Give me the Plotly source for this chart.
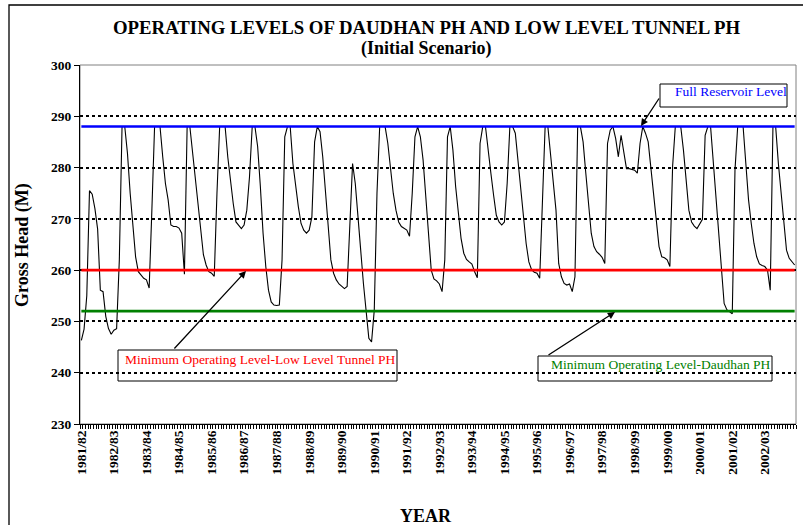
import plotly.graph_objects as go

# ---------------- data ----------------
year_labels = ["1981/82", "1982/83", "1983/84", "1984/85", "1985/86", "1986/87",
               "1987/88", "1988/89", "1989/90", "1990/91", "1991/92", "1992/93",
               "1993/94", "1994/95", "1995/96", "1996/97", "1997/98", "1998/99",
               "1999/00", "2000/01", "2001/02", "2002/03"]

# monthly gross head (m), 12 values per water year
gross_head = [
    246.3, 248.5, 255.0, 275.5, 274.8, 272.0, 268.0, 256.1, 255.8, 251.0, 248.6, 247.5,  # 1981/82
    248.3, 248.6, 262.0, 288.0, 288.0, 282.8, 275.0, 268.5, 262.6, 259.7, 259.0, 258.4,  # 1982/83
    258.1, 256.5, 271.7, 288.0, 288.0, 288.0, 282.1, 276.9, 273.7, 268.8, 268.5, 268.5,  # 1983/84
    268.2, 267.2, 259.2, 288.0, 288.0, 283.0, 278.2, 273.0, 267.5, 263.0, 261.0, 259.7,  # 1984/85
    259.4, 258.8, 275.0, 288.0, 288.0, 288.0, 282.0, 276.9, 273.0, 269.4, 268.8, 268.1,  # 1985/86
    268.8, 271.7, 278.2, 288.0, 288.0, 284.1, 276.3, 267.2, 260.7, 256.1, 253.8, 253.2,  # 1986/87
    253.1, 253.2, 262.0, 286.0, 288.0, 288.0, 280.8, 276.3, 272.4, 269.1, 267.8, 267.2,  # 1987/88
    267.8, 270.4, 285.0, 288.0, 287.0, 282.1, 275.6, 268.5, 262.0, 259.4, 258.1, 257.3,  # 1988/89
    256.9, 256.4, 256.8, 270.4, 280.8, 276.9, 271.1, 263.9, 257.4, 251.6, 246.7, 246.0,  # 1989/90
    252.2, 275.0, 288.0, 288.0, 288.0, 284.7, 279.5, 275.0, 271.7, 269.4, 268.5, 268.1,  # 1990/91
    267.8, 266.6, 275.0, 286.0, 288.0, 286.0, 281.5, 274.3, 266.5, 260.0, 258.3, 257.9,  # 1991/92
    257.3, 255.8, 262.0, 286.0, 288.0, 283.4, 276.3, 271.7, 266.2, 263.3, 262.1, 261.6,  # 1992/93
    261.2, 259.7, 258.5, 284.7, 288.0, 288.0, 282.8, 278.9, 274.6, 270.7, 269.4, 268.8,  # 1993/94
    269.4, 276.9, 288.0, 288.0, 286.7, 281.5, 276.3, 269.8, 265.2, 261.6, 260.1, 259.6,  # 1994/95
    259.4, 258.4, 275.0, 288.0, 288.0, 283.0, 277.0, 271.7, 261.3, 258.7, 257.4, 257.1,  # 1995/96
    257.3, 255.8, 258.7, 288.0, 288.0, 285.0, 278.9, 272.7, 267.2, 264.6, 263.6, 263.1,  # 1996/97
    262.5, 261.3, 284.7, 287.3, 288.0, 285.7, 282.1, 286.3, 283.1, 279.8, 279.8, 279.6,  # 1997/98
    279.5, 278.9, 284.7, 288.0, 286.7, 285.0, 280.2, 275.0, 270.7, 264.6, 262.6, 262.4,  # 1998/99
    262.0, 260.7, 280.2, 288.0, 288.0, 288.0, 283.4, 276.9, 271.7, 269.4, 268.6, 268.1,  # 1999/00
    269.1, 269.9, 286.3, 288.0, 288.0, 280.8, 273.7, 267.2, 260.0, 253.5, 252.3, 251.9,  # 2000/01
    251.5, 279.5, 288.0, 288.0, 288.0, 280.8, 273.7, 269.1, 265.2, 262.6, 261.2, 260.9,  # 2001/02
    260.7, 260.0, 256.1, 288.0, 288.0, 280.8, 275.0, 269.8, 263.9, 262.3, 261.6, 261.0,  # 2002/03
]

FULL_RESERVOIR_LEVEL = 288
MOL_LOW_LEVEL_TUNNEL = 260
MOL_DAUDHAN = 252
Y_MIN, Y_MAX, Y_STEP = 230, 300, 10
MONTHS_PER_YEAR = 12

# ---------------- layout helpers ----------------
W, H = 803, 525
ML, MR, MT, MB = 80, 7, 65, 101
PW, PH = W - ML - MR, H - MT - MB
SERIF = "Liberation Serif, Times New Roman, serif"


def pxx(x):
    return (x - ML) / PW


def pxy(y):
    return (H - MB - y) / PH


months = list(range(len(gross_head)))
tickvals = [k * MONTHS_PER_YEAR for k in range(len(year_labels))]

fig = go.Figure()
fig.add_trace(go.Scatter(x=months, y=gross_head, mode="lines",
                         line=dict(color="black", width=1.1),
                         showlegend=False, hoverinfo="skip"))

for lvl, col in [(FULL_RESERVOIR_LEVEL, "#0000FF"),
                 (MOL_LOW_LEVEL_TUNNEL, "#FF0000"),
                 (MOL_DAUDHAN, "#008000")]:
    fig.add_trace(go.Scatter(x=months, y=[lvl] * len(months), mode="lines",
                             line=dict(color=col, width=2.6),
                             showlegend=False, hoverinfo="skip"))

shapes = [
    # plot area border (grey)
    dict(type="rect", xref="paper", yref="paper", x0=0, x1=1, y0=0, y1=1,
         line=dict(color="#808080", width=1), layer="below"),
    # chart outer border
    dict(type="rect", xref="paper", yref="paper", x0=pxx(9), x1=pxx(815),
         y0=pxy(540), y1=pxy(5), line=dict(color="black", width=1.3), layer="above"),
    # annotation boxes
    dict(type="rect", xref="paper", yref="paper", x0=pxx(660), x1=pxx(787),
         y0=pxy(107), y1=pxy(84), line=dict(color="black", width=1), layer="above"),
    dict(type="rect", xref="paper", yref="paper", x0=pxx(118), x1=pxx(397),
         y0=pxy(381), y1=pxy(350), line=dict(color="black", width=1), layer="above"),
    dict(type="rect", xref="paper", yref="paper", x0=pxx(538), x1=pxx(772),
         y0=pxy(381), y1=pxy(356), line=dict(color="black", width=1), layer="above"),
]
for s in shapes:
    fig.add_shape(**s)

ann = []
# titles
ann.append(dict(text="<b>OPERATING LEVELS OF DAUDHAN PH AND LOW LEVEL TUNNEL PH</b>",
                x=pxx(426), y=pxy(27), font=dict(size=18.8)))
ann.append(dict(text="<b>(Initial Scenario)</b>", x=pxx(426), y=pxy(48), font=dict(size=18)))
ann.append(dict(text="<b>Gross Head (M)</b>", x=pxx(22), y=pxy(245), textangle=-90,
                font=dict(size=18)))
ann.append(dict(text="<b>YEAR</b>", x=pxx(426), y=pxy(516), font=dict(size=18)))
# box labels
ann.append(dict(text="Full Reservoir Level", x=pxx(731), y=pxy(92),
                font=dict(size=13.5, color="#0000FF")))
ann.append(dict(text="Minimum Operating Level-Low Level Tunnel PH", x=pxx(260), y=pxy(359),
                font=dict(size=13.5, color="#FF0000")))
ann.append(dict(text="Minimum Operating Level-Daudhan PH", x=pxx(661), y=pxy(364),
                font=dict(size=13.5, color="#008000")))
for a in ann:
    a.update(xref="paper", yref="paper", showarrow=False, xanchor="center", yanchor="middle")
    a["font"].setdefault("color", "black")
    a["font"]["family"] = SERIF
    fig.add_annotation(**a)

# arrows (head position, tail position in px)
for hx, hy, tx, ty in [(641, 126, 660, 97), (246, 271, 173, 350), (615, 312, 547, 356)]:
    fig.add_annotation(x=pxx(hx), y=pxy(hy), xref="paper", yref="paper", text="",
                       showarrow=True, arrowhead=2, arrowsize=1.1, arrowwidth=1.3,
                       arrowcolor="black", ax=tx - hx, ay=ty - hy)

fig.update_layout(
    width=W, height=H,
    margin=dict(l=ML, r=MR, t=MT, b=MB, pad=0),
    paper_bgcolor="white", plot_bgcolor="white",
    showlegend=False,
    xaxis=dict(range=[-0.5, len(gross_head) - 0.5], tickmode="array",
               tickvals=tickvals, ticktext=year_labels, tickangle=-90,
               ticks="", showline=True, linecolor="black", linewidth=1,
               showgrid=False, zeroline=False,
               tickfont=dict(family=SERIF, size=13.5, color="black", weight="bold"),
               minor=dict(ticks="outside", ticklen=4, tickcolor="black", tickwidth=1,
                          tickmode="linear", tick0=-0.5, dtick=1, showgrid=False)),
    yaxis=dict(range=[Y_MIN, Y_MAX], tickmode="linear", tick0=Y_MIN, dtick=Y_STEP,
               ticks="outside", ticklen=5, tickcolor="black",
               showline=True, linecolor="black", linewidth=1.2,
               showgrid=True, gridcolor="black", gridwidth=1.7, griddash="3px,3px",
               zeroline=False,
               tickfont=dict(family=SERIF, size=13.5, color="black", weight="bold")),
)

fig.write_html("out.html", config={"displayModeBar": False},
               post_script="document.body.style.margin='0px';")
